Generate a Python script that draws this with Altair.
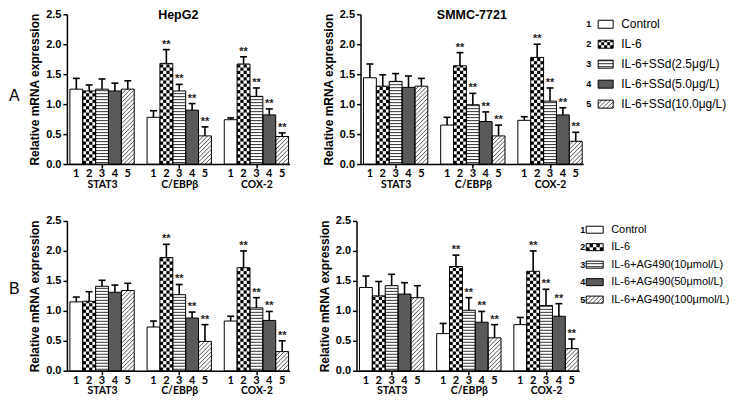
import altair as alt
import numpy as np
import pandas as pd

# ---------------- data ----------------
GROUPS = ["STAT3", "C/EBPβ", "COX-2"]
NUMS = ["1", "2", "3", "4", "5"]
KINDS = ["open", "checker", "stripes", "solid", "hatch"]
SIG = [[0, 0, 0, 0, 0], [0, 1, 1, 1, 1], [0, 1, 1, 1, 1]]

hep_ssd_mean = [[1.25, 1.22, 1.25, 1.22, 1.25], [0.78, 1.68, 1.22, 0.90, 0.47], [0.74, 1.67, 1.13, 0.82, 0.46]]
hep_ssd_err = [[0.18, 0.10, 0.17, 0.13, 0.14], [0.11, 0.23, 0.11, 0.11, 0.15], [0.03, 0.12, 0.14, 0.10, 0.06]]

smmc_ssd_mean = [[1.44, 1.30, 1.38, 1.28, 1.30], [0.65, 1.64, 0.99, 0.71, 0.47], [0.73, 1.78, 1.05, 0.82, 0.38]]
smmc_ssd_err = [[0.23, 0.19, 0.13, 0.19, 0.13], [0.13, 0.22, 0.19, 0.16, 0.18], [0.06, 0.22, 0.22, 0.12, 0.15]]

hep_ag_mean = [[1.15, 1.16, 1.41, 1.31, 1.34], [0.73, 1.89, 1.27, 0.88, 0.49], [0.83, 1.72, 1.05, 0.84, 0.32]]
hep_ag_err = [[0.08, 0.16, 0.10, 0.12, 0.12], [0.10, 0.22, 0.17, 0.10, 0.28], [0.08, 0.28, 0.17, 0.15, 0.18]]

smmc_ag_mean = [[1.39, 1.25, 1.42, 1.28, 1.22], [0.62, 1.74, 1.01, 0.81, 0.55], [0.77, 1.66, 1.09, 0.91, 0.37]]
smmc_ag_err = [[0.19, 0.24, 0.19, 0.19, 0.20], [0.17, 0.19, 0.21, 0.18, 0.22], [0.12, 0.34, 0.27, 0.21, 0.16]]

legend_ssd = ["Control", "IL-6", "IL-6+SSd(2.5μg/L)", "IL-6+SSd(5.0μg/L)", "IL-6+SSd(10.0μg/L)"]
legend_ag = ["Control", "IL-6", "IL-6+AG490(10μmol/L)", "IL-6+AG490(50μmol/L)", "IL-6+AG490(100μmol/L)"]

# ---------------- style / layout ----------------
PW, PH = 223, 150
GAP = 1
XMIN, XMAX = -0.23, 3 * 5 + 2 * GAP + 0.08
YMAX = 2.5
KX = PW / (XMAX - XMIN)
KY = PH / YMAX
DARK = "#5a5a5a"
CHECK_PX = 3.2
STRIPE_PX = 3.0
HATCH_PX = 3.0
CAPW = 0.27
FONT = "Liberation Sans"


def build_pattern(bars, kx, ky):
    fills, cells, hl, dg = [], [], [], []
    for b in bars:
        fills.append({"x0": b["x0"], "x1": b["x1"], "y0": b["y0"], "y1": b["y1"],
                      "fill": DARK if b["kind"] == "solid" else "white"})
        w_px = (b["x1"] - b["x0"]) * kx
        h_px = (b["y1"] - b["y0"]) * ky
        if b["kind"] == "checker":
            ncol = max(2, int(round(w_px / CHECK_PX)))
            cw = w_px / ncol
            nrow = int(np.ceil(h_px / cw - 1e-9))
            for r in range(nrow):
                va, vb = r * cw, min((r + 1) * cw, h_px)
                for c in range(ncol):
                    if (r + c) % 2 == 0:
                        cells.append({"x0": b["x0"] + c * cw / kx, "x1": b["x0"] + (c + 1) * cw / kx,
                                      "y0": b["y0"] + va / ky, "y1": b["y0"] + vb / ky})
        elif b["kind"] == "stripes":
            v = STRIPE_PX / 2
            while v < h_px:
                hl.append({"x0": b["x0"], "x1": b["x1"], "y": b["y0"] + v / ky})
                v += STRIPE_PX
        elif b["kind"] == "hatch":
            step = HATCH_PX * np.sqrt(2)
            c = -w_px + step / 2
            while c < h_px:
                us, ue = max(0.0, -c), min(w_px, h_px - c)
                if ue > us:
                    dg.append({"x0": b["x0"] + us / kx, "y0": b["y0"] + (us + c) / ky,
                               "x1": b["x0"] + ue / kx, "y1": b["y0"] + (ue + c) / ky})
                c += step
    return fills, cells, hl, dg


def pattern_layers(bars, kx, ky, xsc, ysc, xaxis=None, yaxis=None):
    fills, cells, hl, dg = build_pattern(bars, kx, ky)
    f = pd.DataFrame(fills)

    def X(field):
        return alt.X(field, type="quantitative", scale=xsc, axis=xaxis)

    def Y(field):
        return alt.Y(field, type="quantitative", scale=ysc, axis=yaxis)

    layers = [
        alt.Chart(f).mark_rect(strokeWidth=0).encode(
            x=X("x0"), x2="x1:Q", y=Y("y0"), y2="y1:Q",
            color=alt.Color("fill:N", scale=None)),
        alt.Chart(pd.DataFrame(cells)).mark_rect(strokeWidth=0, color="black").encode(
            x=X("x0"), x2="x1:Q", y=Y("y0"), y2="y1:Q"),
        alt.Chart(pd.DataFrame(hl)).mark_rule(color="#333333", strokeWidth=1).encode(
            x=X("x0"), x2="x1:Q", y=Y("y")),
        alt.Chart(pd.DataFrame(dg)).mark_rule(color="#444444", strokeWidth=0.9).encode(
            x=X("x0"), x2="x1:Q", y=Y("y0"), y2="y1:Q"),
        alt.Chart(f).mark_rect(fillOpacity=0, stroke="black", strokeWidth=1).encode(
            x=X("x0"), x2="x1:Q", y=Y("y0"), y2="y1:Q"),
    ]
    return layers, X, Y


def panel(means, errs, title, letter, letter_y):
    bars, rows = [], []
    for g in range(len(GROUPS)):
        for t in range(5):
            x0 = g * (5 + GAP) + t
            m, e = means[g][t], errs[g][t]
            bars.append({"x0": x0, "x1": x0 + 1, "y0": 0.0, "y1": m, "kind": KINDS[t]})
            rows.append({"xc": x0 + 0.5, "cap0": x0 + 0.5 - CAPW, "cap1": x0 + 0.5 + CAPW,
                         "m": m, "top": m + e, "zero": 0.0, "num": NUMS[t],
                         "star": "**" if SIG[g][t] else ""})
    df = pd.DataFrame(rows)
    xsc = alt.Scale(domain=[XMIN, XMAX], nice=False, zero=False)
    ysc = alt.Scale(domain=[0, YMAX], nice=False, zero=True)
    centers = [g * (5 + GAP) + 2.5 for g in range(len(GROUPS))]
    expr = "'" + GROUPS[-1] + "'"
    for g in range(len(GROUPS) - 2, -1, -1):
        expr = "datum.value < %g ? '%s' : (%s)" % (centers[g] + 1, GROUPS[g], expr)
    xaxis = alt.Axis(values=centers, labelExpr=expr, title=None, tickSize=4, tickWidth=1.5,
                     domainWidth=1.5, labelPadding=11, labelFont="Lato", labelFontSize=10.5,
                     labelFontWeight="bold", labelAngle=0, grid=False, labelFlush=False,
                     labelOverlap=False)
    yaxis = alt.Axis(values=[0.0, 0.5, 1.0, 1.5, 2.0, 2.5], format=".1f",
                     title="Relative mRNA expression",
                     titleFont=FONT, titleFontSize=12, titleFontWeight="bold", titlePadding=4,
                     labelFont=FONT, labelFontSize=11, labelFontWeight="bold", labelPadding=2,
                     tickSize=4, tickWidth=1.5, domainWidth=1.5, grid=False, labelFlush=False,
                     labelOverlap=False)
    layers, X, Y = pattern_layers(bars, KX, KY, xsc, ysc, xaxis, yaxis)
    base = alt.Chart(df)
    layers += [
        base.mark_rule(color="black", strokeWidth=1.6).encode(x=X("xc"), y=Y("m"), y2="top:Q"),
        base.mark_rule(color="black", strokeWidth=1.6).encode(x=X("cap0"), x2="cap1:Q", y=Y("top")),
        base.mark_text(color="#222222", font=FONT, fontWeight="bold", fontSize=11,
                       baseline="alphabetic", dy=-2).encode(
            x=X("xc"), y=Y("top"), text="star:N"),
        base.mark_text(color="black", font="Lato", fontWeight="bold", fontSize=11, baseline="top", dy=4).encode(
            x=X("xc"), y=Y("zero"), text="num:N"),
    ]
    if title:
        tdf = pd.DataFrame({"t": [title], "x": [(XMIN + XMAX) / 2], "y": [YMAX]})
        layers.append(alt.Chart(tdf).mark_text(
            color="black", font=FONT, fontWeight="bold", fontSize=12.5, baseline="top", dy=-5).encode(
            x=X("x"), y=Y("y"), text="t:N"))
    if letter:
        ldf = pd.DataFrame({"t": [letter], "x": [XMIN - 58 / KX], "y": [letter_y]})
        layers.append(alt.Chart(ldf).mark_text(
            color="black", font=FONT, fontSize=16, align="left", baseline="middle").encode(
            x=X("x"), y=Y("y"), text="t:N"))
    return alt.layer(*layers).properties(width=PW, height=PH)


def legend(labels, num_x, box, text_x, lw, lh, fs):
    n = len(labels)
    ky = lh / n
    xsc = alt.Scale(domain=[0, lw], nice=False, zero=False)
    ysc = alt.Scale(domain=[0.5, n + 0.5], nice=False, zero=False)
    ys = [n - i for i in range(n)]
    bars = [{"x0": box[0], "x1": box[1], "y0": ys[i] - 0.2, "y1": ys[i] + 0.2, "kind": KINDS[i]}
            for i in range(n)]
    items = pd.DataFrame({"y": ys, "num": NUMS[:n], "label": labels, "nx": num_x, "tx": text_x})
    layers, X, Y = pattern_layers(bars, 1.0, ky, xsc, ysc, None, None)
    layers += [
        alt.Chart(items).mark_text(color="black", font=FONT, fontWeight="bold", fontSize=9,
                                   baseline="middle", align="center").encode(
            x=X("nx"), y=Y("y"), text="num:N"),
        alt.Chart(items).mark_text(color="black", font=FONT, fontSize=fs,
                                   baseline="middle", align="left").encode(
            x=X("tx"), y=Y("y"), text="label:N"),
    ]
    return alt.layer(*layers).properties(width=lw, height=lh)


p_tl = panel(hep_ssd_mean, hep_ssd_err, "HepG2", "A", 1.13)
p_tr = panel(smmc_ssd_mean, smmc_ssd_err, "SMMC-7721", None, None)
p_bl = panel(hep_ag_mean, hep_ag_err, None, "B", 1.37)
p_br = panel(smmc_ag_mean, smmc_ag_err, None, None, None)

leg_top = legend(legend_ssd, 2.5, (12, 27), 35, 143, 100, 12)
leg_bot = legend(legend_ag, 2.5, (6, 23), 31, 150, 87.5, 11)

row1 = alt.hconcat(alt.hconcat(p_tl, p_tr, spacing=32), leg_top, spacing=2)
row2 = alt.hconcat(alt.hconcat(p_bl, p_br, spacing=28), leg_bot, spacing=0)

chart = alt.vconcat(row1, row2, spacing=25).properties(padding=0).configure_view(
    stroke=None).configure_axis(domainColor="black", tickColor="black", labelColor="black",
                                titleColor="black")

chart.save("out.html", embed_options={"renderer": "svg", "actions": False})
